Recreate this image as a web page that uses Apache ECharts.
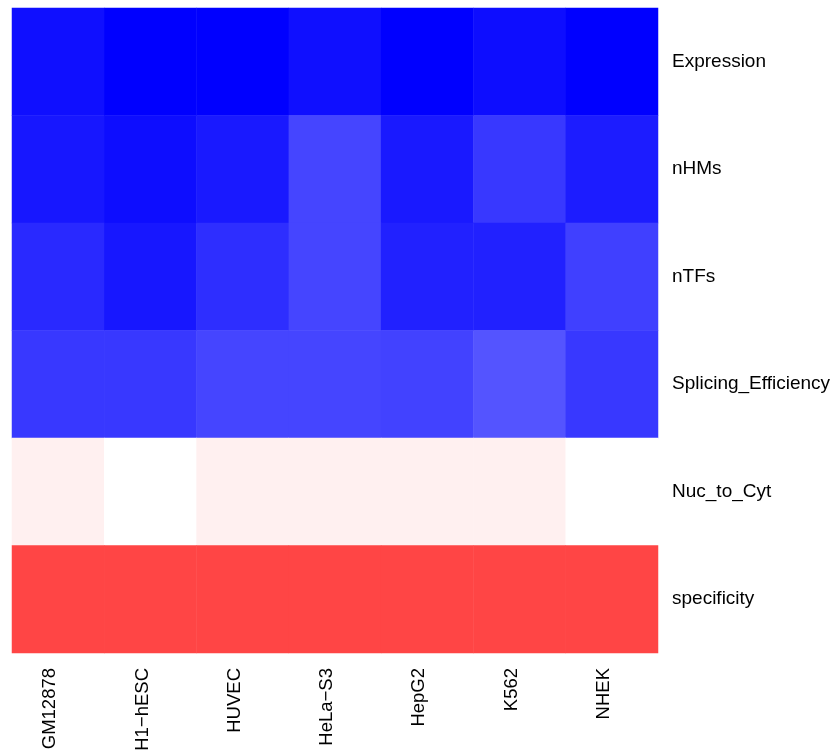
<!DOCTYPE html>
<html>
<head>
<meta charset="utf-8">
<script src="https://cdn.jsdelivr.net/npm/echarts@6/dist/echarts.min.js"></script>
<style>
  html, body { margin: 0; padding: 0; background: #fff; }
  #chart { width: 837px; height: 756px; }
</style>
</head>
<body>
<div id="chart"></div>
<script>
// cell lines (columns) and features (rows, top to bottom)
var cellLines = ['GM12878', 'H1\u2212hESC', 'HUVEC', 'HeLa\u2212S3', 'HepG2', 'K562', 'NHEK']
var features = ['Expression', 'nHMs', 'nTFs', 'Splicing_Efficiency', 'Nuc_to_Cyt', 'specificity']

// scaled values, -1 = blue, 0 = white, 1 = red
var expression = [-0.94, -1.00, -1.00, -0.94, -1.00, -0.95, -1.00]
var nHMs = [-0.91, -0.95, -0.90, -0.73, -0.90, -0.78, -0.89]
var nTFs = [-0.84, -0.91, -0.82, -0.73, -0.87, -0.87, -0.75]
var splicing = [-0.78, -0.78, -0.73, -0.73, -0.74, -0.67, -0.78]
var nucToCyt = [0.06, 0.00, 0.06, 0.06, 0.06, 0.06, 0.00]
var specificity = [0.73, 0.73, 0.73, 0.73, 0.73, 0.73, 0.73]

var rows = [expression, nHMs, nTFs, splicing, nucToCyt, specificity]
var data = []
rows.forEach(function(row, r) {
  row.forEach(function(v, c) {
    data.push([c, r, v])
  })
})

var chart = echarts.init(document.getElementById('chart'))
chart.setOption({
  animation: false,
  grid: {
    left: 12,
    top: 8,
    width: 646,
    height: 645
  },
  xAxis: {
    type: 'category',
    data: cellLines,
    axisLine: { show: false },
    axisTick: { show: false },
    splitArea: { show: false },
    axisLabel: {
      rotate: 90,
      margin: 15,
      color: '#000',
      fontSize: 18.5,
      lineHeight: 16,
      verticalAlign: 'bottom',
      fontFamily: 'Liberation Sans'
    }
  },
  yAxis: {
    type: 'category',
    data: features,
    inverse: true,
    position: 'right',
    axisLine: { show: false },
    axisTick: { show: false },
    splitArea: { show: false },
    axisLabel: {
      margin: 14,
      color: '#000',
      fontSize: 19,
      fontFamily: 'Liberation Sans'
    }
  },
  visualMap: {
    show: false,
    type: 'continuous',
    min: -1,
    max: 1,
    inRange: {
      color: ['#0000ff', '#ffffff', '#ff0000']
    }
  },
  series: [{
    type: 'heatmap',
    data: data,
    itemStyle: { borderWidth: 0 },
    emphasis: { disabled: true }
  }]
})
</script>
</body>
</html>
